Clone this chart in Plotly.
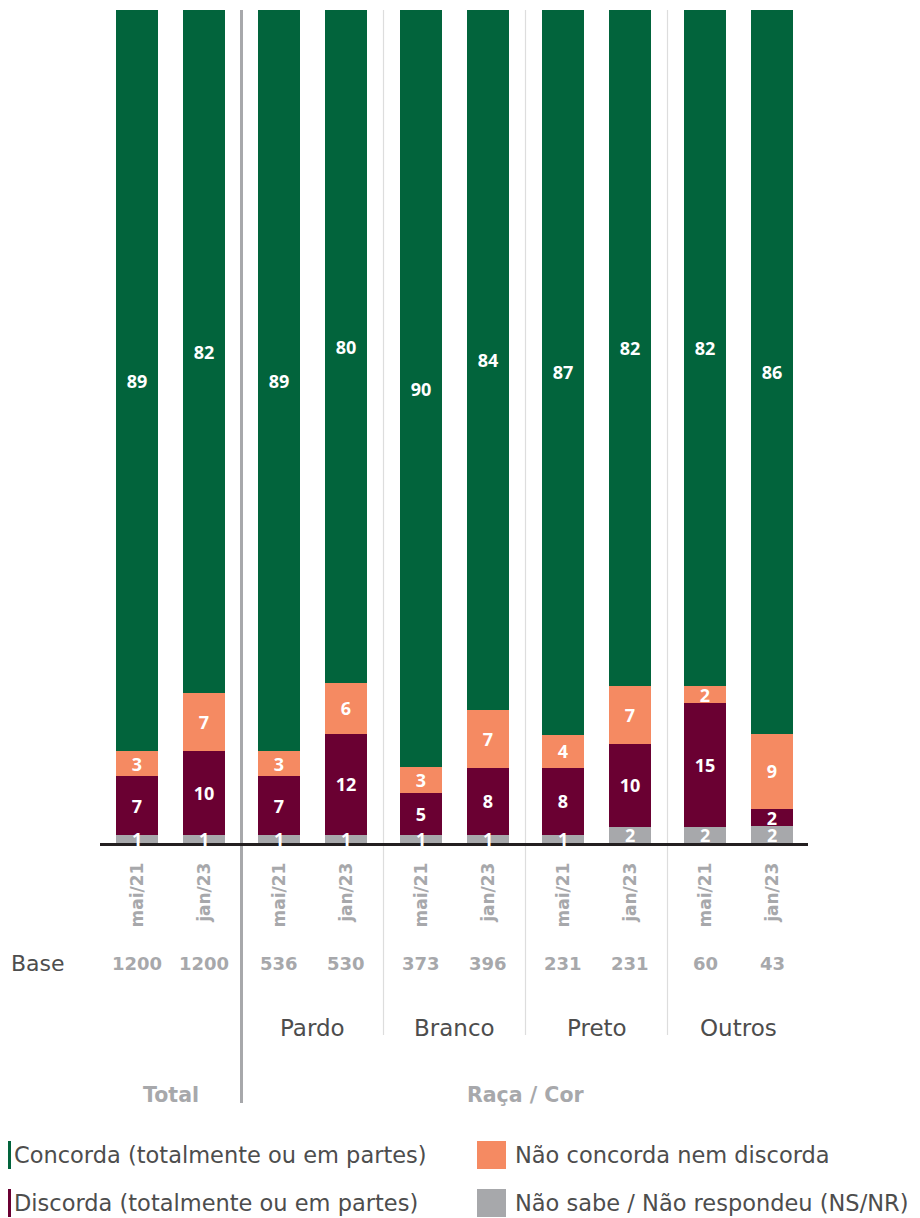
import plotly.graph_objects as go

groups = ["Total", "Pardo", "Branco", "Preto", "Outros"]
periods = ["mai/21", "jan/23"]
concorda = [89, 82, 89, 80, 90, 84, 87, 82, 82, 86]
neutro = [3, 7, 3, 6, 3, 7, 4, 7, 2, 9]
discorda = [7, 10, 7, 12, 5, 8, 8, 10, 15, 2]
nsnr = [1, 1, 1, 1, 1, 1, 1, 2, 2, 2]
base = [1200, 1200, 536, 530, 373, 396, 231, 231, 60, 43]

series = [
    ("Não sabe / Não respondeu (NS/NR)", nsnr, "#A7A8AB"),
    ("Discorda (totalmente ou em partes)", discorda, "#6A0032"),
    ("Não concorda nem discorda", neutro, "#F58A62"),
    ("Concorda (totalmente ou em partes)", concorda, "#02643C"),
]

FONT = "DejaVu Sans"
NUMFONT = "Open Sans"
DARK = "#4D4D4D"
GREY = "#A7A8AB"

OFF = 8  # page body margin
W, H = 920 - OFF, 1218 - OFF
ML, MT = 100 - OFF, 10 - OFF
PW, PH = 708, 833
MR = W - ML - PW
MB = H - MT - PH

GROUP_STEP = 142
PAIR_STEP = 67
FIRST = 37
xs = [g * GROUP_STEP + s * PAIR_STEP + FIRST for g in range(len(groups)) for s in range(len(periods))]
labels = [p for _ in groups for p in periods]
totals = [a + b + c + d for a, b, c, d in zip(concorda, neutro, discorda, nsnr)]


def ypap(pix):
    return (MT + PH - (pix - OFF)) / PH


def xpap(pix):
    return (pix - OFF - ML) / PW


fig = go.Figure()
for i, (name, vals, col) in enumerate(series):
    fig.add_trace(go.Bar(
        x=xs, y=[v / t * 100 for v, t in zip(vals, totals)],
        width=42, name=name, marker=dict(color=col, line=dict(width=0)),
        text=[f"<b>{v}</b>" if i > 0 else "" for v in vals],
        textposition="inside",
        insidetextanchor="middle", textangle=0,
        textfont=dict(family=NUMFONT, size=18, color="white"),
        showlegend=False, hoverinfo="skip",
    ))

annotations = []
# bottom-segment labels as annotations so the next segment does not hide them
for x, v, t in zip(xs, nsnr, totals):
    annotations.append(dict(text=f"<b>{v}</b>", xref="x", yref="y", x=x, y=v / t * 100 / 2,
                            xanchor="center", yanchor="middle", showarrow=False,
                            font=dict(family=NUMFONT, size=18, color="white")))

shapes = []
sep0 = (xs[1] + xs[2]) / 2
shapes.append(dict(type="line", xref="x", yref="paper", x0=sep0, x1=sep0,
                   y0=1, y1=ypap(1103), line=dict(color=GREY, width=3), layer="below"))
for g in range(1, len(groups) - 1):
    sx = (xs[2 * g + 1] + xs[2 * g + 2]) / 2
    shapes.append(dict(type="line", xref="x", yref="paper", x0=sx, x1=sx,
                       y0=1, y1=ypap(1035), line=dict(color="#DDDDDD", width=1.2), layer="below"))

annotations.append(dict(text="Base", xref="paper", yref="paper", x=xpap(9), y=ypap(963),
                        xanchor="left", yanchor="middle", showarrow=False,
                        font=dict(family=FONT, size=22, color=DARK)))
for x, b in zip(xs, base):
    annotations.append(dict(text=f"<b>{b}</b>", xref="x", yref="paper", x=x, y=ypap(963),
                            xanchor="center", yanchor="middle", showarrow=False,
                            font=dict(family=FONT, size=18, color=GREY)))
for g in range(1, len(groups)):
    cx = (xs[2 * g] + xs[2 * g + 1]) / 2
    annotations.append(dict(text=groups[g], xref="x", yref="paper", x=cx, y=ypap(1028),
                            xanchor="center", yanchor="middle", showarrow=False,
                            font=dict(family=FONT, size=23, color=DARK)))
annotations.append(dict(text="<b>Total</b>", xref="x", yref="paper", x=(xs[0] + xs[1]) / 2,
                        y=ypap(1095), xanchor="center", yanchor="middle", showarrow=False,
                        font=dict(family=FONT, size=20.5, color=GREY)))
annotations.append(dict(text="<b>Raça / Cor</b>", xref="x", yref="paper", x=sum(xs[2:]) / len(xs[2:]),
                        y=ypap(1095), xanchor="center", yanchor="middle", showarrow=False,
                        font=dict(family=FONT, size=20.5, color=GREY)))

# legend (manual)
leg = [
    (series[3], 12, 1155, OFF, 3),
    (series[2], 513, 1155, 477, 29),
    (series[1], 12, 1203, OFF, 3),
    (series[0], 513, 1203, 477, 29),
]
for (name, _, col), tx, ty, mx, mw in leg:
    shapes.append(dict(type="rect", xref="paper", yref="paper",
                       x0=xpap(mx), x1=xpap(mx + mw), y0=ypap(ty - 14), y1=ypap(ty + 14),
                       fillcolor=col, line=dict(width=0)))
    annotations.append(dict(text=name, xref="paper", yref="paper", x=xpap(tx), y=ypap(ty),
                            xanchor="left", yanchor="middle", showarrow=False,
                            font=dict(family=FONT, size=22.5, color=DARK)))

fig.update_layout(
    width=W, height=H, margin=dict(l=ML, r=MR, t=MT, b=MB),
    barmode="stack", plot_bgcolor="white", paper_bgcolor="white",
    uniformtext=dict(minsize=18, mode="show"),
    xaxis=dict(range=[0, PW], tickvals=xs, ticktext=[f"<b>{l}</b>" for l in labels],
               tickangle=-90, tickfont=dict(family=FONT, size=17, color=GREY),
               ticklabelstandoff=10,
               showgrid=False, zeroline=False, showline=True, linecolor="#231F20",
               linewidth=2.5, ticks="", fixedrange=True),
    yaxis=dict(range=[0, 100], visible=False, fixedrange=True),
    shapes=shapes, annotations=annotations,
)

fig.write_html("out.html")
